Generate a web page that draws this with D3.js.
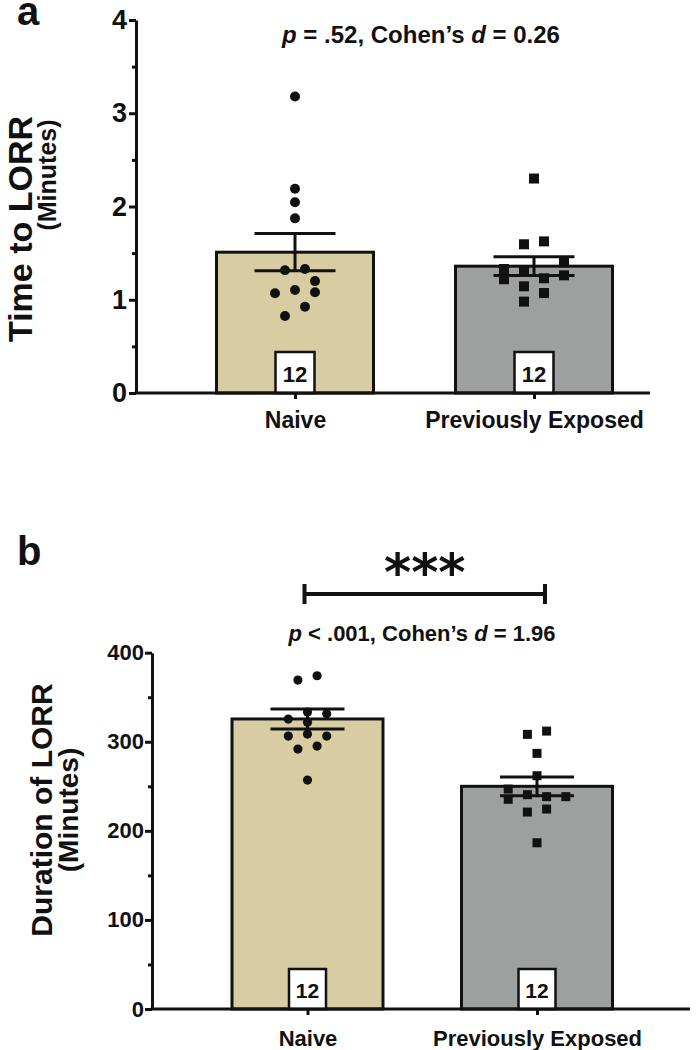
<!DOCTYPE html>
<html>
<head>
<meta charset="utf-8">
<script src="https://cdn.jsdelivr.net/npm/d3@7"></script>
<style>
  body { margin: 0; background: #fff; }
  svg { display: block; }
  text { font-family: "Liberation Sans", Arial, Helvetica, sans-serif; font-weight: bold; fill: #111; }
</style>
</head>
<body>
<div id="chart"></div>
<script>
const groups = ['Naive', 'Previously Exposed'];
const groupN = ['12', '12'];

// panel a - time to LORR (minutes)
const timeNaive = [3.18, 2.19, 2.045, 1.873, 1.33, 1.316, 1.20, 1.105, 1.08, 1.07, 0.925, 0.826];
const timeNaiveCol = [0, 0, 0, 0, 1, -1, 2, 0, 2, -2, 1, -1];
const timePrev = [2.30, 1.626, 1.595, 1.40, 1.33, 1.305, 1.262, 1.23, 1.22, 1.144, 1.072, 0.98];
const timePrevCol = [0, 1, -1, 3, -3, -1, 3, 1, -3, -1, 1, -1];
const timeMean = [1.51, 1.36];
const timeSem = [0.20, 0.10];
const timeTicks = [0, 1, 2, 3, 4];
const timeMinor = [0.5, 1.5, 2.5, 3.5];

// panel b - duration of LORR (minutes)
const durNaive = [374.1, 369.3, 333.3, 331.4, 325.5, 322, 308.6, 306.4, 306.4, 295.2, 291.8, 257.0];
const durNaiveCol = [1, -1, 0, 2, -2, 0, 0, -2, 2, 1, -1, 0];
const durPrev = [312.0, 308.3, 287.0, 261.9, 246.9, 240.6, 238.4, 238.4, 235.4, 224.5, 221.1, 186.6];
const durPrevCol = [1, -1, 0, 0, -3, -1, 1, 3, -3, 1, -1, 0];
const durMean = [325.6, 250.0];
const durSem = [11.3, 10.5];
const durTicks = [0, 100, 200, 300, 400];
const durMinor = [50, 150, 250, 350];

const barColors = ['#d8cca2', '#9ea09f'];
const ink = '#111';

const svg = d3.select('#chart').append('svg')
    .attr('width', 700)
    .attr('height', 1050);

function drawPanel(p) {
    const y = d3.scaleLinear().domain([0, p.yMax]).range([p.yBottom, p.yTop]);
    const x = d3.scalePoint().domain(groups).range(p.centers);
    const g = svg.append('g');

    // bars
    g.selectAll('rect.bar').data(groups).join('rect')
        .attr('class', 'bar')
        .attr('x', d => x(d) - p.barW / 2)
        .attr('y', (d, i) => y(p.means[i]))
        .attr('width', p.barW)
        .attr('height', (d, i) => y(0) - y(p.means[i]))
        .attr('fill', (d, i) => barColors[i])
        .attr('stroke', ink)
        .attr('stroke-width', 3);

    // error bars (mean +/- sem)
    const eb = g.selectAll('g.eb').data(groups).join('g').attr('class', 'eb');
    eb.append('line')
        .attr('x1', d => x(d)).attr('x2', d => x(d))
        .attr('y1', (d, i) => y(p.means[i] + p.sems[i]))
        .attr('y2', (d, i) => y(p.means[i] - p.sems[i]));
    eb.append('line')
        .attr('x1', d => x(d) - p.capW / 2).attr('x2', d => x(d) + p.capW / 2)
        .attr('y1', (d, i) => y(p.means[i] + p.sems[i]))
        .attr('y2', (d, i) => y(p.means[i] + p.sems[i]));
    eb.append('line')
        .attr('x1', d => x(d) - p.capW / 2).attr('x2', d => x(d) + p.capW / 2)
        .attr('y1', (d, i) => y(p.means[i] - p.sems[i]))
        .attr('y2', (d, i) => y(p.means[i] - p.sems[i]));
    eb.selectAll('line').attr('stroke', ink).attr('stroke-width', 3);

    // individual animals
    const naivePts = p.naive.map((v, i) => ({ v, c: p.naiveCol[i] }));
    const prevPts = p.prev.map((v, i) => ({ v, c: p.prevCol[i] }));

    g.selectAll('circle.pt').data(naivePts).join('circle')
        .attr('class', 'pt')
        .attr('cx', d => x(groups[0]) + d.c * p.step)
        .attr('cy', d => y(d.v))
        .attr('r', p.dotR)
        .attr('fill', ink);

    g.selectAll('rect.pt').data(prevPts).join('rect')
        .attr('class', 'pt')
        .attr('x', d => x(groups[1]) + d.c * p.step - p.sq / 2)
        .attr('y', d => y(d.v) - p.sq / 2)
        .attr('width', p.sq)
        .attr('height', p.sq)
        .attr('fill', ink);

    // n boxes
    const nb = g.selectAll('g.nbox').data(groups).join('g').attr('class', 'nbox');
    nb.append('rect')
        .attr('x', d => x(d) - p.boxW / 2)
        .attr('y', y(0) - p.boxH)
        .attr('width', p.boxW)
        .attr('height', p.boxH)
        .attr('fill', '#fff')
        .attr('stroke', ink)
        .attr('stroke-width', 2.5);
    nb.append('text')
        .attr('x', d => x(d))
        .attr('y', y(0) - p.boxH * 0.27)
        .attr('text-anchor', 'middle')
        .style('font-size', p.boxFont + 'px')
        .text((d, i) => groupN[i]);

    // y axis
    const yAxis = g.append('g')
        .attr('transform', `translate(${p.axisX},0)`)
        .call(d3.axisLeft(y).tickValues(p.ticks).tickFormat(d3.format('d'))
            .tickSize(7).tickSizeOuter(0).tickPadding(p.tickPad));
    yAxis.select('.domain').attr('stroke', ink).attr('stroke-width', 3);
    yAxis.selectAll('.tick line').attr('stroke', ink).attr('stroke-width', 3);
    yAxis.selectAll('.tick text')
        .style('font-size', p.tickFont + 'px')
        .style('font-family', '"Liberation Sans", Arial, sans-serif')
        .style('font-weight', 'bold')
        .attr('fill', ink);

    const yMinor = g.append('g')
        .attr('transform', `translate(${p.axisX},0)`)
        .call(d3.axisLeft(y).tickValues(p.minor).tickSize(4).tickFormat(''));
    yMinor.select('.domain').remove();
    yMinor.selectAll('.tick line').attr('stroke', ink).attr('stroke-width', 3);

    // x axis
    g.append('line')
        .attr('x1', p.axisX - 1.5).attr('x2', p.xEnd)
        .attr('y1', y(0)).attr('y2', y(0))
        .attr('stroke', ink).attr('stroke-width', 3);
    const xAxis = g.append('g')
        .attr('transform', `translate(0,${y(0)})`)
        .call(d3.axisBottom(x).tickSize(6).tickSizeOuter(0).tickPadding(p.labelPad));
    xAxis.select('.domain').remove();
    xAxis.selectAll('.tick line').attr('stroke', ink).attr('stroke-width', 3);
    xAxis.selectAll('.tick text')
        .style('font-size', p.labelFont + 'px')
        .style('font-family', '"Liberation Sans", Arial, sans-serif')
        .style('font-weight', 'bold')
        .attr('fill', ink);

    // y title
    p.title.forEach(t => {
        g.append('text')
            .attr('transform', `translate(${t.x},${t.y}) rotate(-90)`)
            .attr('text-anchor', 'middle')
            .style('font-size', t.size + 'px')
            .text(t.text);
    });

    // panel letter
    g.append('text')
        .attr('x', 17).attr('y', p.letterY)
        .style('font-size', '40px')
        .text(p.letter);

    // stats line
    const st = g.append('text')
        .attr('x', p.statX).attr('y', p.statY)
        .attr('text-anchor', 'middle')
        .style('font-size', p.statFont + 'px');
    p.stat.forEach(s => {
        st.append('tspan').style('font-style', s.it ? 'italic' : 'normal').text(s.t);
    });
    return { x, y, g };
}

drawPanel({
    letter: 'a', letterY: 25,
    yMax: 4, yBottom: 393, yTop: 20, axisX: 136, xEnd: 650,
    centers: [295, 534], barW: 157, capW: 81,
    means: timeMean, sems: timeSem,
    naive: timeNaive, naiveCol: timeNaiveCol, prev: timePrev, prevCol: timePrevCol,
    step: 10, dotR: 5, sq: 10,
    boxW: 39, boxH: 41, boxFont: 22,
    ticks: timeTicks, minor: timeMinor, tickFont: 27, tickPad: 2,
    labelFont: 23, labelPad: 13,
    title: [
        { text: 'Time to LORR', x: 32, y: 229, size: 34 },
        { text: '(Minutes)', x: 56, y: 175, size: 25 }
    ],
    statX: 421, statY: 43, statFont: 24,
    stat: [{ t: 'p', it: true }, { t: ' = .52, Cohen\u2019s ' }, { t: 'd', it: true }, { t: ' = 0.26' }]
});

const pb = drawPanel({
    letter: 'b', letterY: 565,
    yMax: 400, yBottom: 1009, yTop: 652.7, axisX: 152, xEnd: 690,
    centers: [307.5, 537], barW: 151, capW: 74,
    means: durMean, sems: durSem,
    naive: durNaive, naiveCol: durNaiveCol, prev: durPrev, prevCol: durPrevCol,
    step: 9.6, dotR: 4.6, sq: 9,
    boxW: 37, boxH: 40, boxFont: 21,
    ticks: durTicks, minor: durMinor, tickFont: 22, tickPad: 1,
    labelFont: 22, labelPad: 15,
    title: [
        { text: 'Duration of LORR', x: 52, y: 810, size: 30 },
        { text: '(Minutes)', x: 78, y: 810, size: 28 }
    ],
    statX: 422, statY: 641, statFont: 22,
    stat: [{ t: 'p', it: true }, { t: ' < .001, Cohen\u2019s ' }, { t: 'd', it: true }, { t: ' = 1.96' }]
});

// significance bracket in panel b
const bx0 = pb.x(groups[0]) - 3, bx1 = pb.x(groups[1]) + 8, by = 594;
pb.g.append('path')
    .attr('d', `M${bx0},${by - 10}V${by + 10}M${bx0},${by}H${bx1}M${bx1},${by - 10}V${by + 10}`)
    .attr('fill', 'none')
    .attr('stroke', ink)
    .attr('stroke-width', 4);
pb.g.append('text')
    .attr('x', (bx0 + bx1) / 2).attr('y', 590)
    .attr('text-anchor', 'middle')
    .style('font-family', '"DejaVu Sans", sans-serif')
    .style('font-size', '52px')
    .text('***');
</script>
</body>
</html>
